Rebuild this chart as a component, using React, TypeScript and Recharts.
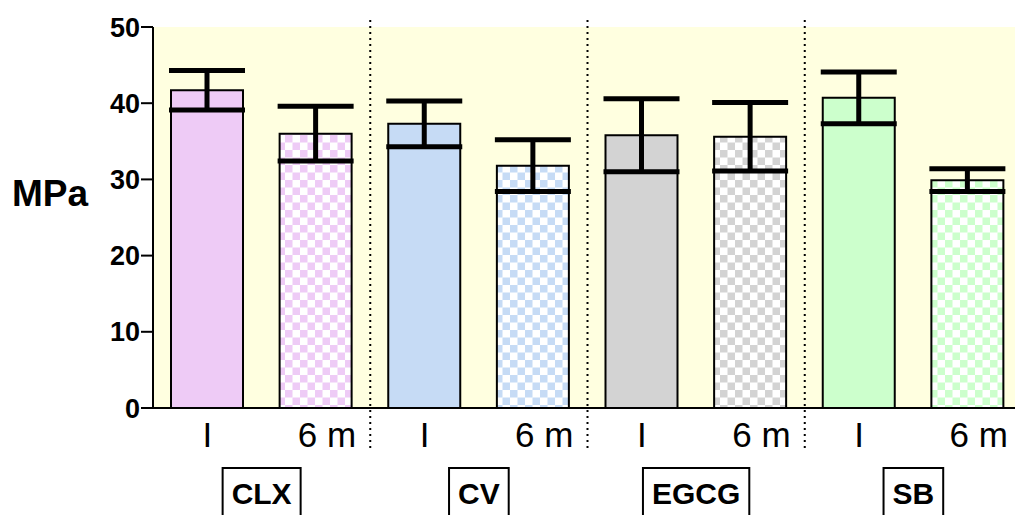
import {
  BarChart,
  Bar,
  Cell,
  XAxis,
  YAxis,
  CartesianGrid,
  ErrorBar,
  ReferenceLine,
} from "recharts";

const groups = ["CLX", "CV", "EGCG", "SB"];
const times = ["I", "6 m"];
const means = [41.7, 36.0, 37.3, 31.8, 35.8, 35.6, 40.7, 29.9];
const sds = [2.6, 3.6, 3.0, 3.4, 4.8, 4.5, 3.4, 1.5];
const yTicks = [0, 10, 20, 30, 40, 50];
const groupColors = ["#EECBF6", "#C6DBF5", "#D3D3D3", "#CCFFCC"];

const data = means.map((m, i) => ({
  name: groups[Math.floor(i / 2)] + " " + times[i % 2],
  group: groups[Math.floor(i / 2)],
  time: times[i % 2],
  mpa: m,
  sd: sds[i],
}));

const FONT = "'Liberation Sans', Arial, sans-serif";

// rough Arial Bold advance widths, used to size the boxes round the group names
const boldWidth: Record<string, number> = {
  C: 0.722, L: 0.611, X: 0.667, V: 0.667, E: 0.667, G: 0.778, S: 0.667, B: 0.722,
};

const TimeTick = (props: any) => {
  const { x, y, payload } = props;
  const label = data[payload.index]?.time ?? "";
  const shift = label === "I" ? 0 : 11;
  return (
    <text
      x={x + shift}
      y={y + 39}
      textAnchor="middle"
      fontFamily={FONT}
      fontSize={35}
      fill="#000"
    >
      {label}
    </text>
  );
};

const GroupTick = (props: any) => {
  const { x, y, payload } = props;
  const label = String(payload.value);
  const fs = 30;
  const w = label.split("").reduce((s, c) => s + (boldWidth[c] ?? 0.7) * fs, 0) + 18;
  return (
    <g>
      <rect x={x - w / 2} y={y + 10} width={w} height={60} fill="#fff" stroke="#000" strokeWidth={2} />
      <text
        x={x}
        y={y + 46}
        textAnchor="middle"
        fontFamily={FONT}
        fontWeight="bold"
        fontSize={fs}
        fill="#000"
      >
        {label}
      </text>
    </g>
  );
};

const Separator = (props: any) => {
  const x = props.x1;
  const top = Math.min(props.y1, props.y2);
  const bottom = Math.max(props.y1, props.y2);
  return (
    <line
      x1={x}
      x2={x}
      y1={top - 7}
      y2={bottom + 44}
      stroke="#000"
      strokeWidth={2}
      strokeDasharray="2 4"
    />
  );
};

const App = () => {
  return (
    <div
      style={{
        position: "fixed",
        left: 0,
        top: 0,
        width: 1015,
        height: 515,
        overflow: "hidden",
        background: "#fff",
      }}
    >
      <BarChart
        width={1030}
        height={515}
        data={data}
        margin={{ top: 27, right: 8, left: 13, bottom: 0 }}
        barSize={72}
      >
        <defs>
          {groupColors.map((c, i) => (
            <pattern
              key={i}
              id={`checker-${i}`}
              patternUnits="userSpaceOnUse"
              width={15}
              height={15}
            >
              <rect x={0} y={0} width={15} height={15} fill="#fff" />
              <rect x={0} y={0} width={7.5} height={7.5} fill={c} />
              <rect x={7.5} y={7.5} width={7.5} height={7.5} fill={c} />
            </pattern>
          ))}
        </defs>
        <CartesianGrid fill="#FFFFE0" horizontal={false} vertical={false} />
        <XAxis
          dataKey="name"
          height={50}
          interval={0}
          tickLine={false}
          tickSize={0}
          tickMargin={0}
          axisLine={{ stroke: "#000", strokeWidth: 2 }}
          tick={<TimeTick />}
        />
        <XAxis
          xAxisId="grp"
          dataKey="group"
          allowDuplicatedCategory={false}
          height={57}
          interval={0}
          tickLine={false}
          tickSize={0}
          tickMargin={0}
          axisLine={false}
          tick={<GroupTick />}
        />
        <YAxis
          width={140}
          domain={[0, 50]}
          ticks={yTicks}
          interval={0}
          tickSize={12}
          tickMargin={1}
          axisLine={{ stroke: "#000", strokeWidth: 2 }}
          tickLine={{ stroke: "#000", strokeWidth: 2 }}
          tick={{ fill: "#000", fontFamily: FONT, fontWeight: "bold", fontSize: 27 }}
          label={{
            content: (p: any) => {
              const vb = p.viewBox;
              return (
                <text
                  x={12}
                  y={vb.y + vb.height / 2 - 12}
                  fontFamily={FONT}
                  fontWeight="bold"
                  fontSize={37}
                  fill="#000"
                >
                  MPa
                </text>
              );
            },
          }}
        />
        <Bar dataKey="mpa" stroke="#000" strokeWidth={2} isAnimationActive={false}>
          {data.map((d, i) => (
            <Cell
              key={d.name}
              fill={
                i % 2 === 0
                  ? groupColors[Math.floor(i / 2)]
                  : `url(#checker-${Math.floor(i / 2)})`
              }
            />
          ))}
          <ErrorBar
            dataKey="sd"
            width={38}
            strokeWidth={5}
            stroke="#000"
            isAnimationActive={false}
          />
        </Bar>
        {data
          .filter((d, i) => i % 2 === 1 && i < data.length - 1)
          .map((d) => (
            <ReferenceLine
              key={d.name}
              x={d.name}
              position="end"
              shape={<Separator />}
            />
          ))}
      </BarChart>
    </div>
  );
};

export default App;
